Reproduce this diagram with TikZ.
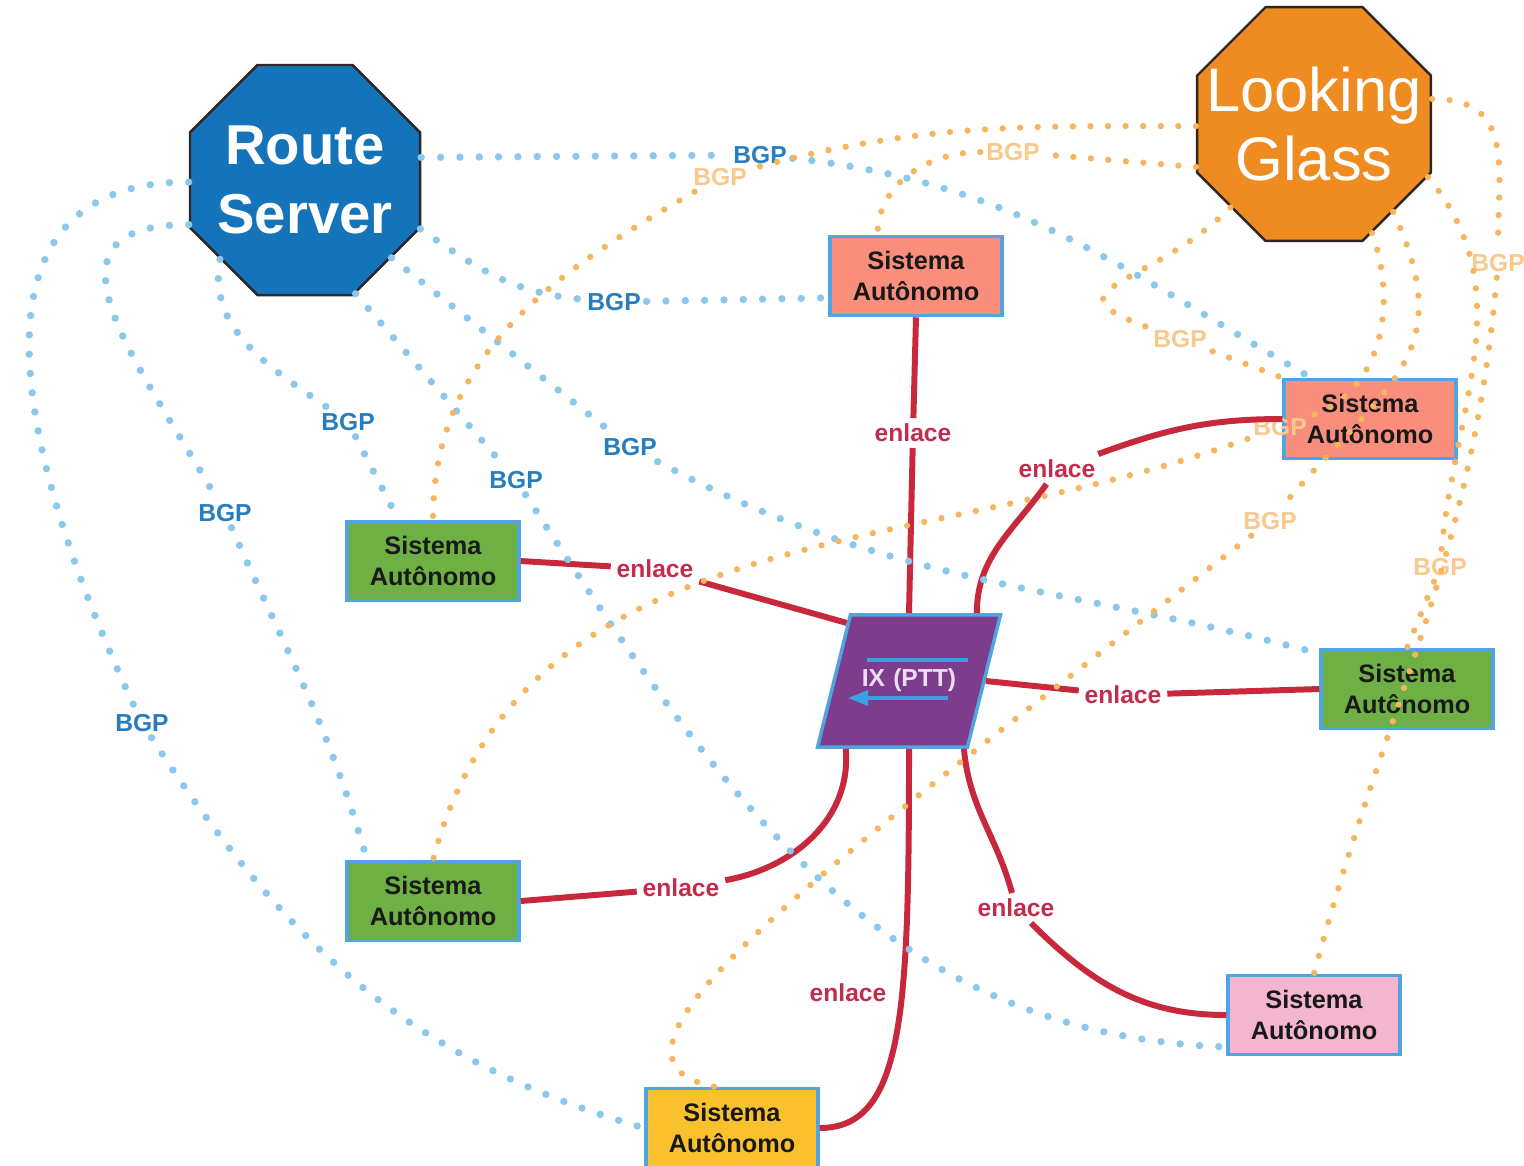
\documentclass[tikz,border=0pt]{standalone}
\usepackage{fontspec}
\setsansfont{Liberation Sans}
\usetikzlibrary{shapes.geometric,arrows.meta}

\definecolor{rsblue}{RGB}{20,115,185}
\definecolor{lgorange}{RGB}{238,140,34}
\definecolor{octedge}{RGB}{45,38,35}
\definecolor{assalmon}{RGB}{250,142,125}
\definecolor{asgreen}{RGB}{110,176,68}
\definecolor{aspink}{RGB}{244,182,206}
\definecolor{asyellow}{RGB}{251,192,45}
\definecolor{asedge}{RGB}{80,165,225}
\definecolor{astext}{RGB}{25,25,25}
\definecolor{ixpurple}{RGB}{125,60,140}
\definecolor{ixtext}{RGB}{236,222,242}
\definecolor{ixblue}{RGB}{60,160,225}
\definecolor{linkred}{RGB}{200,40,60}
\definecolor{enlred}{RGB}{195,45,75}
\definecolor{bgpbdot}{RGB}{140,200,235}
\definecolor{bgpbtext}{RGB}{40,125,190}
\definecolor{bgpodot}{RGB}{245,182,95}
\definecolor{bgpotext}{RGB}{248,200,140}

\begin{document}
\begin{tikzpicture}[font=\sffamily,
	octo/.style={regular polygon,regular polygon sides=8,inner sep=0pt,draw=octedge,line width=0.7pt},
	octtext/.style={text=white,align=center,inner sep=0pt},
	asbox/.style={rectangle,draw=asedge,line width=1pt,minimum width=1.72cm,minimum height=0.79cm,inner sep=0pt,align=center,text=astext,font=\sffamily\bfseries\fontsize{7.2}{8.6}\selectfont},
	ixbox/.style={trapezium,trapezium left angle=76,trapezium right angle=104,text width=33.3pt,text height=5pt,text depth=1.6pt,align=center,inner xsep=0pt,inner ysep=15.5pt,fill=ixpurple,draw=asedge,line width=1pt,text=ixtext,font=\sffamily\bfseries\fontsize{7}{8}\selectfont},
	ixline/.style={ixblue,line width=1pt},
	enl/.style={text=enlred,inner sep=1.5pt,font=\sffamily\bfseries\fontsize{7}{8}\selectfont},
	bgpb/.style={text=bgpbtext,inner sep=1.5pt,font=\sffamily\bfseries\fontsize{7}{8}\selectfont},
	bgpo/.style={text=bgpotext,inner sep=1.5pt,font=\sffamily\bfseries\fontsize{7}{8}\selectfont},
	link/.style={linkred,line width=1.7pt},
	bluedots/.style={bgpbdot,line width=2.1pt,line cap=round,dash pattern=on 0pt off 5.5pt},
	orangedots/.style={bgpodot,line width=1.8pt,line cap=round,dash pattern=on 0pt off 5pt}]
	\useasboundingbox (0,0) rectangle (15.24,-11.65);

	%servers
	\node[octo,fill=rsblue,minimum size=2.49cm,label={[octtext,font=\sffamily\bfseries\fontsize{16}{19.5}\selectfont]center:Route\\Server}] (RS) at (3.05,-1.80) {};
	\node[octo,fill=lgorange,minimum size=2.53cm,label={[octtext,font=\sffamily\fontsize{17.5}{19.5}\selectfont]center:Looking\\Glass}] (LG) at (13.14,-1.24) {};

	%autonomous systems
	\node[asbox,fill=assalmon] (AS1) at (9.16,-2.76) {Sistema\\Autônomo};
	\node[asbox,fill=assalmon] (AS2) at (13.70,-4.19) {Sistema\\Autônomo};
	\node[asbox,fill=asgreen] (AS3) at (4.33,-5.61) {Sistema\\Autônomo};
	\node[asbox,fill=asgreen] (AS4) at (14.07,-6.89) {Sistema\\Autônomo};
	\node[asbox,fill=asgreen] (AS5) at (4.33,-9.01) {Sistema\\Autônomo};
	\node[asbox,fill=aspink] (AS6) at (13.14,-10.15) {Sistema\\Autônomo};
	\node[asbox,fill=asyellow] (AS7) at (7.32,-11.28) {Sistema\\Autônomo};

	%exchange point
	\node[ixbox] (IX) at (9.09,-6.81) {IX (PTT)};
	\draw[ixline] ([shift={(-0.42,0.21)}]IX.center) -- ([shift={(0.59,0.21)}]IX.center);
	\draw[ixline,-{Triangle[length=2mm,width=1.5mm]}] ([shift={(0.39,-0.17)}]IX.center) -- ([shift={(-0.61,-0.17)}]IX.center);

	%labels
	\node[enl] (e1) at (9.13,-4.33) {enlace};
	\node[enl] (e2) at (10.57,-4.69) {enlace};
	\node[enl] (e3) at (6.55,-5.69) {enlace};
	\node[enl] (e4) at (11.23,-6.95) {enlace};
	\node[enl] (e5) at (6.81,-8.88) {enlace};
	\node[enl] (e6) at (10.16,-9.08) {enlace};
	\node[enl] (e7) at (8.48,-9.93) {enlace};
	\node[bgpb] (b1) at (7.60,-1.55) {BGP};
	\node[bgpb] (b2) at (6.14,-3.02) {BGP};
	\node[bgpb] (b3) at (6.30,-4.47) {BGP};
	\node[bgpb] (b4) at (5.16,-4.80) {BGP};
	\node[bgpb] (b5) at (3.48,-4.22) {BGP};
	\node[bgpb] (b6) at (2.25,-5.13) {BGP};
	\node[bgpb] (b7) at (1.42,-7.23) {BGP};
	\node[bgpo] (o1) at (7.20,-1.77) {BGP};
	\node[bgpo] (o2) at (10.13,-1.52) {BGP};
	\node[bgpo] (o3) at (11.80,-3.39) {BGP};
	\node[bgpo] (o4) at (12.80,-4.27) {BGP};
	\node[bgpo] (o5) at (12.70,-5.21) {BGP};
	\node[bgpo] (o6) at (14.40,-5.67) {BGP};
	\node[bgpo] (o7) at (14.98,-2.63) {BGP};

	%links to the IX
	\draw[link] (AS1.south) -- (e1) -- (IX.north);
	\draw[link] (AS2.west) to[out=180,in=20] (e2);
	\draw[link] (e2) to[out=-125,in=90] (IX.45);
	\draw[link] (AS3.east) -- (e3) -- (IX.137);
	\draw[link] (AS4.west) -- (e4) -- (IX.east);
	\draw[link] (AS5.east) -- (e5);
	\draw[link] (e5) to[out=10,in=-85] (IX.227);
	\draw[link] (AS6.west) to[out=180,in=-45] (e6);
	\draw[link] (e6) to[out=105,in=-85] (IX.309);
	\draw[link] (AS7.east) .. controls +(0.85,0) and +(0,-2.6) .. (IX.south);

	%BGP sessions with the route server
	\draw[bluedots] (RS.11) -- (b1);
	\draw[bluedots] (b1) to[out=-6,in=150] (AS2.145);
	\draw[bluedots] (RS.-23) to[out=-35,in=175] (b2);
	\draw[bluedots] (b2) -- (AS1.194);
	\draw[bluedots] (RS.-42) -- (b3);
	\draw[bluedots] (b3) to[out=-28,in=165] (AS4.158);
	\draw[bluedots] (RS.-66) -- (b4);
	\draw[bluedots] (b4) to[out=-57,in=178] (AS6.200);
	\draw[bluedots] (RS.223) to[out=-100,in=145] (b5);
	\draw[bluedots] (b5) -- (AS3.130);
	\draw[bluedots] (RS.201) to[out=180,in=120,looseness=1.5] (b6);
	\draw[bluedots] (b6) to[out=-66,in=106] (AS5.148);
	\draw[bluedots] (RS.181) to[out=180,in=115,looseness=1.2] (b7);
	\draw[bluedots] (b7) to[out=-57,in=164] (AS7.west);

	%BGP sessions with the looking glass
	\draw[orangedots] (LG.181) to[out=180,in=15] (o1);
	\draw[orangedots] (o1) to[out=-150,in=90] (AS3.north);
	\draw[orangedots] (LG.200) -- (o2);
	\draw[orangedots] (o2) to[out=180,in=90] (AS1.133);
	\draw[orangedots] (LG.225) to[out=225,in=160,looseness=2] (o3);
	\draw[orangedots] (o3) -- (AS2.north west);
	\draw[orangedots] (LG.-62) to[out=-70,in=20] (o4);
	\draw[orangedots] (o4) to[out=200,in=75] (AS5.north);
	\draw[orangedots] (LG.-48) to[out=-65,in=50,looseness=1.3] (o5);
	\draw[orangedots] (o5) .. controls +(-4.5,-3.5) and +(-1.5,0.3) .. (AS7.113);
	\draw[orangedots] (LG.-25) to[out=-50,in=85] (o6);
	\draw[orangedots] (o6) -- (AS4.north);
	\draw[orangedots] (LG.12) to[out=0,in=90,looseness=1.3] (o7);
	\draw[orangedots] (o7) to[out=-95,in=75] (AS6.north);
\end{tikzpicture}
\end{document}
